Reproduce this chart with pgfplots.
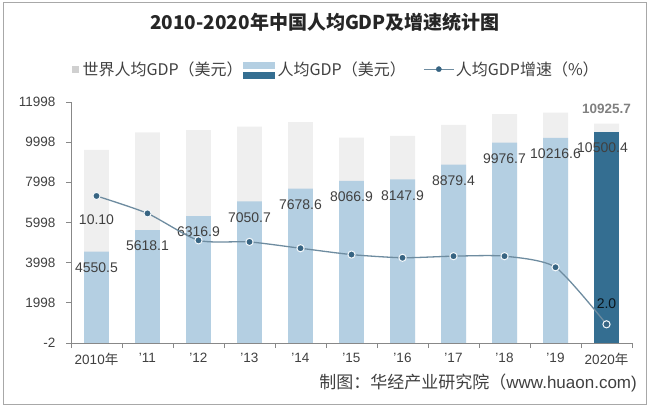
\documentclass[border=0pt]{standalone}
\usepackage{fontspec}
\setmainfont{Liberation Sans}
\newfontfamily\cjk{Noto Sans CJK SC}
\usepackage{pgfplots}
\pgfplotsset{compat=1.18}
\definecolor{worldgray}{HTML}{EFEFEF}
\definecolor{chinalight}{HTML}{B4CFE2}
\definecolor{chinadark}{HTML}{346E91}
\definecolor{lineblue}{HTML}{6E8CA0}
\definecolor{markerblue}{HTML}{376482}
\definecolor{axisgray}{HTML}{888888}
\definecolor{labelcolor}{HTML}{404040}
\definecolor{framegray}{HTML}{A8A8A8}
\begin{document}
\begin{tikzpicture}
\useasboundingbox (0pt,0pt) rectangle (650pt,407pt);
\draw[framegray, line width=1pt] (3pt,3pt) rectangle (646pt,404pt);
\node[font=\cjk\bfseries\fontsize{19}{20}\selectfont, text=black!85] at (325pt,385pt) {2010-2020年中国人均GDP及增速统计图};
\node[anchor=east, font=\fontsize{17}{18}\selectfont, text=labelcolor, inner sep=0pt] at (637pt,24pt) {{\cjk 制图：华经产业研究院（}www.huaon.com)};

\begin{axis}[
  at={(71pt,64pt)}, anchor=south west,
  scale only axis, width=561pt, height=241pt,
  xmin=-0.5, xmax=10.5, ymin=-2, ymax=11998,
  axis x line*=bottom, axis y line*=left,
  axis line style={draw=axisgray, line width=0.8pt, -},
  tick align=outside, major tick length=5pt,
  tick style={draw=axisgray, line width=0.8pt},
  xtick={-0.5,0.5,...,10.5}, xticklabels={},
  extra x ticks={0,1,2,3,4,5,6,7,8,9,10},
  extra x tick labels={2010{\cjk 年},'11,'12,'13,'14,'15,'16,'17,'18,'19,2020{\cjk 年}},
  extra x tick style={major tick length=0pt, xticklabel style={yshift=-7pt}},
  ytick={-2,1998,3998,5998,7998,9998,11998},
  scaled y ticks=false,
  yticklabel style={xshift=-7pt},
  tick label style={font=\fontsize{13.5}{14}\selectfont, text=labelcolor},
  /pgf/number format/assume math mode=true,
  /pgf/number format/1000 sep={},
  legend columns=3,
  legend style={at={(axis description cs:0.002,1.133)}, anchor=west, draw=none, fill=none,
    inner sep=0pt, column sep=0pt, nodes={inner sep=0pt},
    font=\cjk\fontsize{16}{17}\selectfont, text=labelcolor},
]
\addplot[ybar, bar width=0.49, bar shift=0pt, fill=worldgray, draw=none, forget plot,
  point meta=explicit symbolic, nodes near coords,
  nodes near coords style={anchor=center, yshift=15pt, font=\bfseries\fontsize{13.5}{14}\selectfont, text=black!50}]
  coordinates {(0,9610)[] (1,10490)[] (2,10600)[] (3,10770)[] (4,10990)[] (5,10220)[] (6,10310)[] (7,10860)[] (8,11400)[] (9,11470)[] (10,10925.7)[10925.7]};
\addplot[ybar, bar width=0.49, bar shift=0pt, fill=chinalight, draw=none, forget plot,
  nodes near coords={\pgfmathprintnumber[fixed,fixed zerofill,precision=1,1000 sep={}]{\pgfplotspointmeta}},
  nodes near coords style={anchor=center, yshift=-16pt, font=\fontsize{14}{15}\selectfont, text=labelcolor}]
  coordinates {(0,4550.5) (1,5618.1) (2,6316.9) (3,7050.7) (4,7678.6) (5,8066.9) (6,8147.9) (7,8879.4) (8,9976.7) (9,10216.6)};
\addplot[ybar, bar width=0.49, bar shift=0pt, fill=chinadark, draw=none, forget plot,
  nodes near coords={\pgfmathprintnumber[fixed,fixed zerofill,precision=1,1000 sep={}]{\pgfplotspointmeta}},
  nodes near coords style={anchor=center, yshift=-16pt, xshift=-4pt, font=\fontsize{14}{15}\selectfont, text=labelcolor}]
  coordinates {(10,10500.4)};
\addlegendimage{legend image code/.code={\fill[worldgray!85!black!90] (0pt,-3pt) rectangle (6pt,3pt); \path[draw=none,fill=none] (10pt,0pt) circle (0pt);}}
\addlegendentry{世界人均GDP（美元）}
\addlegendimage{legend image code/.code={\path[draw=none,fill=none] (-1pt,0pt) circle (0pt) (34pt,0pt) circle (0pt); \fill[chinalight] (0pt,1pt) rectangle (31pt,7pt); \fill[chinadark] (0pt,-9pt) rectangle (31pt,-3pt);}}
\addlegendentry{人均GDP（美元）}
\addlegendimage{legend image code/.code={\path[draw=none,fill=none] (-18pt,0pt) circle (0pt) (32pt,0pt) circle (0pt); \draw[lineblue, line width=1.2pt] (0pt,0pt) -- (30pt,0pt); \fill[markerblue] (15pt,0pt) circle (2.6pt);}}
\addlegendentry{人均GDP增速（\%）}
\end{axis}

\begin{axis}[
  at={(71pt,64pt)}, anchor=south west,
  scale only axis, width=561pt, height=241pt,
  xmin=-0.5, xmax=10.5, ymin=0.82, ymax=16.03,
  hide axis,
]
\addplot[smooth, tension=0.4, color=lineblue, line width=1.3pt, mark=*, mark size=3.6pt,
  mark options={fill=markerblue, draw=white!85!chinalight, line width=1pt}]
  coordinates {(0,10.1) (1,9.0) (2,7.3) (3,7.2) (4,6.8) (5,6.4) (6,6.2) (7,6.3) (8,6.3) (9,5.6) (10,2.0)};
\addplot[draw=none, point meta=explicit symbolic, nodes near coords,
  nodes near coords style={anchor=center, yshift=-24pt, font=\fontsize{14}{15}\selectfont, text=labelcolor}]
  coordinates {(0,10.1)[10.10]};
\addplot[draw=none, point meta=explicit symbolic, nodes near coords,
  nodes near coords style={anchor=center, yshift=21pt, font=\fontsize{14}{15}\selectfont, text=black!80!chinadark}]
  coordinates {(10,2.0)[2.0]};
\end{axis}
\end{tikzpicture}
\end{document}
